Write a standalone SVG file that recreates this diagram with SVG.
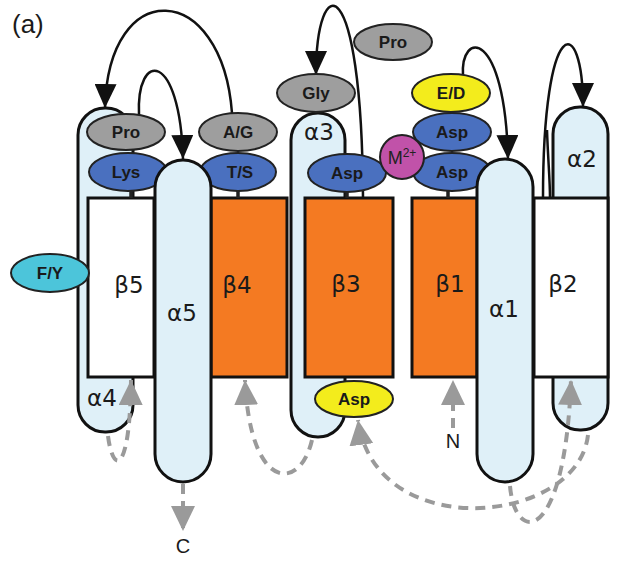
<svg xmlns="http://www.w3.org/2000/svg" width="622" height="561" viewBox="0 0 622 561">
<defs>
<style>
.helix{fill:#dff0f8;stroke:#111;stroke-width:3}
.sheet-o{fill:#f47a22;stroke:#111;stroke-width:3}
.sheet-w{fill:#fff;stroke:#111;stroke-width:3}
.res{stroke:#222;stroke-width:2}
.gray{fill:#9e9e9e}.blue{fill:#4a70bf}.yellow{fill:#f3ec1c}.cyan{fill:#4cc5da}.mag{fill:#c152a9}
.lbl{font-family:"Liberation Sans",Arial,sans-serif;font-weight:bold;font-size:17px;fill:#1a1a1a;text-anchor:middle}
.greek{font-family:"DejaVu Sans",sans-serif;font-size:23px;fill:#1a1a1a;text-anchor:middle}
.term{font-family:"Liberation Sans",Arial,sans-serif;font-size:20px;fill:#1a1a1a;text-anchor:middle}
.conn{fill:none;stroke:#111;stroke-width:2.5}
.dash{fill:none;stroke:#9a9a9a;stroke-width:4;stroke-dasharray:10 7}
.stub{stroke:#222;stroke-width:3.5}
</style>
<marker id="ab" markerUnits="userSpaceOnUse" markerWidth="24" markerHeight="22" viewBox="0 0 24 22" refX="24" refY="11" orient="auto"><path d="M0,0 L24,11 L0,22 z" fill="#111"/></marker>
<marker id="ag" markerUnits="userSpaceOnUse" markerWidth="25" markerHeight="24" viewBox="0 0 25 24" refX="25" refY="12" orient="auto"><path d="M0,0 L25,12 L0,24 z" fill="#9a9a9a"/></marker>
</defs>

<text x="12" y="33" font-family="Liberation Sans, Arial, sans-serif" font-size="26" fill="#1a1a1a">(a)</text>

<g id="alpha4"><rect class="helix" x="78" y="108" width="55" height="324" rx="27"/><text class="greek" x="102" y="406">α4</text></g>
<g id="alpha2"><rect class="helix" x="553" y="107" width="55" height="323" rx="27"/><text class="greek" x="582" y="167">α2</text></g>
<g id="alpha3"><rect class="helix" x="291" y="113" width="54" height="324" rx="27"/><text class="greek" x="319" y="140">α3</text></g>

<g id="beta5"><rect class="sheet-w" x="88" y="198" width="66" height="179"/><text class="greek" x="129" y="293">β5</text></g>
<g id="beta4"><rect class="sheet-o" x="211" y="198" width="76" height="179"/><text class="greek" x="237" y="293">β4</text></g>
<g id="beta3"><rect class="sheet-o" x="305" y="198" width="88" height="179"/><text class="greek" x="346" y="292">β3</text></g>
<g id="beta1"><rect class="sheet-o" x="412" y="198" width="65" height="179"/><text class="greek" x="450" y="292">β1</text></g>
<g id="beta2"><rect class="sheet-w" x="534" y="198" width="74" height="179"/><text class="greek" x="563" y="292">β2</text></g>

<g id="connectors">
<path class="conn" d="M232 113 C222 -20 108 -25 105 108" marker-end="url(#ab)"/>
<path class="conn" d="M139 115 C136 50 180 50 183 159" marker-end="url(#ab)"/>
<path class="conn" d="M363 198 C362 -35 316 -30 316 75" marker-end="url(#ab)"/>
<path class="conn" d="M463 76 C460 30 505 28 508 159" marker-end="url(#ab)"/>
<path class="conn" d="M543 198 C543 12 583 12 583 107" marker-end="url(#ab)"/>
<path class="conn" d="M547 130 C548 160 550 180 550 198"/>
<path class="dash" d="M108 436 C113 475 130 475 131 380" marker-end="url(#ag)"/>
<path class="dash" d="M312 440 C300 492 250 492 245 380" marker-end="url(#ag)"/>
<path class="dash" d="M588 435 C578 525 375 545 358 420" marker-end="url(#ag)"/>
<path class="dash" d="M510 486 C515 545 565 545 571 380" marker-end="url(#ag)"/>
<path class="dash" d="M453 428 L453 380" marker-end="url(#ag)"/>
<path class="dash" d="M183 484 L183 531" marker-end="url(#ag)"/>
</g>

<g id="stubs">
<line class="stub" x1="131" y1="190" x2="131" y2="198"/>
<line class="stub" x1="238" y1="190" x2="238" y2="198"/>
<line class="stub" x1="347" y1="190" x2="347" y2="198"/>
<line class="stub" x1="448" y1="190" x2="448" y2="198"/>
</g>

<g id="pro1"><ellipse class="res gray" cx="126" cy="132" rx="39" ry="18"/><text class="lbl" x="126" y="138">Pro</text></g>
<g id="lys"><ellipse class="res blue" cx="128" cy="172" rx="39" ry="19"/><text class="lbl" x="126" y="178">Lys</text></g>
<g id="ag"><ellipse class="res gray" cx="238" cy="132" rx="39" ry="19"/><text class="lbl" x="238" y="138">A/G</text></g>
<g id="ts"><ellipse class="res blue" cx="238" cy="172" rx="38" ry="19"/><text class="lbl" x="240" y="178">T/S</text></g>
<g id="gly"><ellipse class="res gray" cx="316" cy="93" rx="39" ry="19"/><text class="lbl" x="316" y="99">Gly</text></g>
<g id="pro2"><ellipse class="res gray" cx="393" cy="42" rx="39" ry="18"/><text class="lbl" x="393" y="48">Pro</text></g>
<g id="ed"><ellipse class="res yellow" cx="451" cy="93" rx="39" ry="19"/><text class="lbl" x="451" y="99">E/D</text></g>
<g id="asp-up"><ellipse class="res blue" cx="452" cy="132" rx="39" ry="19"/><text class="lbl" x="452" y="138">Asp</text></g>
<g id="asp-low"><ellipse class="res blue" cx="452" cy="172" rx="39" ry="19"/><text class="lbl" x="452" y="178">Asp</text></g>
<g id="asp-mid"><ellipse class="res blue" cx="347" cy="173" rx="39" ry="19"/><text class="lbl" x="347" y="179">Asp</text></g>
<g id="fy"><ellipse class="res cyan" cx="50" cy="273" rx="39" ry="19"/><text class="lbl" x="50" y="279">F/Y</text></g>
<g id="asp-yellow"><ellipse class="res yellow" cx="354" cy="399" rx="39" ry="18"/><text class="lbl" x="354" y="405">Asp</text></g>

<g id="alpha5"><rect class="helix" x="155" y="160" width="56" height="322" rx="28"/><text class="greek" x="182" y="321">α5</text></g>
<g id="alpha1"><rect class="helix" x="477" y="159" width="56" height="323" rx="28"/><text class="greek" x="504" y="317">α1</text></g>

<g id="metal"><circle class="res mag" cx="402" cy="157" r="22"/><text x="402" y="164" font-family="Liberation Sans, Arial, sans-serif" font-size="18" fill="#222" text-anchor="middle">M<tspan font-size="12" dy="-7">2+</tspan></text></g>

<g id="n-term"><text class="term" x="453" y="448">N</text></g>
<g id="c-term"><text class="term" x="183" y="553">C</text></g>
</svg>
